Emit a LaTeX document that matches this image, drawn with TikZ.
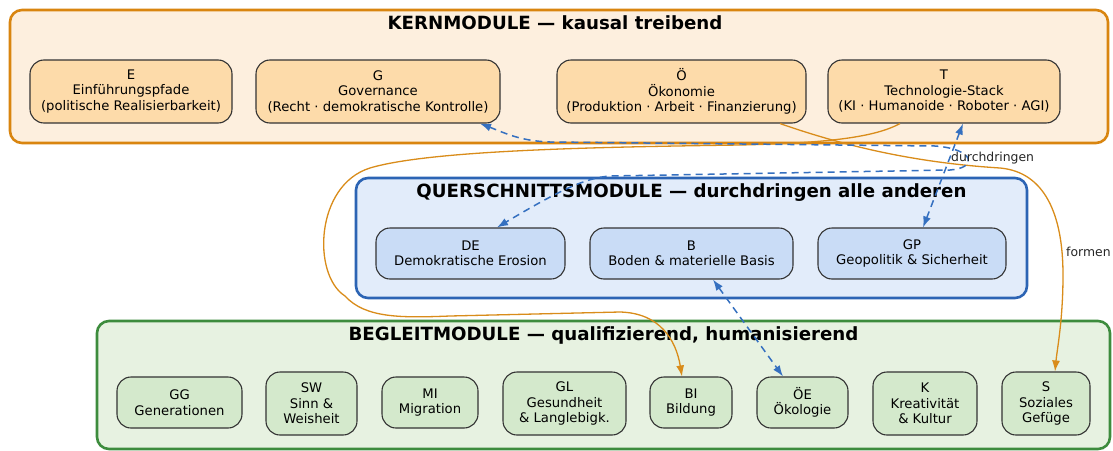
\documentclass[tikz,border=0pt]{standalone}
\usepackage{fontspec}
\setmainfont{DejaVu Sans}
\usetikzlibrary{arrows.meta}
\definecolor{kernB}{HTML}{D9850F}
\definecolor{kernF}{HTML}{FDEFDE}
\definecolor{kernN}{HTML}{FDDBAA}
\definecolor{querB}{HTML}{2C64B4}
\definecolor{querF}{HTML}{E2ECFA}
\definecolor{querN}{HTML}{C9DCF6}
\definecolor{begB}{HTML}{3D8C3D}
\definecolor{begF}{HTML}{E7F2E1}
\definecolor{begN}{HTML}{D4E9CC}
\definecolor{edgeBlue}{HTML}{3570C0}
\definecolor{edgeOr}{HTML}{D98C1A}
\newcommand\mfnt{\fontsize{13.2}{15.5}\selectfont}
\newcommand\tfnt{\fontsize{18.2}{20}\selectfont\bfseries}
\newcommand\lfnt{\fontsize{12.4}{14}\selectfont}
\begin{document}
\begin{tikzpicture}[x=1pt,y=-1pt,
  cluster/.style={line width=2.6pt, rounded corners=12pt, inner sep=0pt},
  ctitle/.style={font=\tfnt, inner sep=0pt},
  mod/.style={draw=black!80, line width=1.1pt, rounded corners=14pt, align=center, inner sep=0pt, font=\mfnt},
  kmod/.style={mod, fill=kernN, minimum height=63pt},
  qmod/.style={mod, fill=querN, minimum height=51pt},
  bmod/.style={mod, fill=begN},
  bluedash/.style={draw=edgeBlue, line width=1.5pt, dash pattern=on 7pt off 5pt, {Latex[length=11pt,width=8pt]}-{Latex[length=11pt,width=8pt]}},
  orline/.style={draw=edgeOr, line width=1.3pt, -{Latex[length=11pt,width=8pt]}},
  lbl/.style={font=\lfnt, inner sep=0pt, text=black!85}
]
\useasboundingbox (0,0) rectangle (1113,450);
\fill[white] (0,0) rectangle (1113,450);

% clusters
\node[cluster, draw=kernB, fill=kernF, minimum width=1098pt, minimum height=133pt] (kern) at (559,76.5) {};
\node[ctitle] (kernT) at (555,23) {KERNMODULE — kausal treibend};
\node[cluster, draw=querB, fill=querF, minimum width=671pt, minimum height=120pt] (quer) at (691.5,238) {};
\node[ctitle] (querT) at (691.5,193) {QUERSCHNITTSMODULE — durchdringen alle anderen};
\node[cluster, draw=begB, fill=begF, minimum width=1013pt, minimum height=128pt] (beg) at (603.5,385) {};
\node[ctitle] (begT) at (603.5,335) {BEGLEITMODULE — qualifizierend, humanisierend};

% kern modules
\node[kmod, minimum width=202pt] (E) at (131,91.5) {E\\Einführungspfade\\(politische Realisierbarkeit)};
\node[kmod, minimum width=244pt] (G) at (378,91.5) {G\\Governance\\(Recht · demokratische Kontrolle)};
\node[kmod, minimum width=249pt] (O) at (681.5,91.5) {Ö\\Ökonomie\\(Produktion · Arbeit · Finanzierung)};
\node[kmod, minimum width=232pt] (T) at (944,91.5) {T\\Technologie-Stack\\(KI · Humanoide · Roboter · AGI)};

% querschnitt modules
\node[qmod, minimum width=189pt] (DE) at (470.5,253.5) {DE\\Demokratische Erosion};
\node[qmod, minimum width=203pt] (B) at (691.5,253.5) {B\\Boden \& materielle Basis};
\node[qmod, minimum width=188pt] (GP) at (912,253.5) {GP\\Geopolitik \& Sicherheit};

% begleit modules
\node[bmod, minimum width=125pt, minimum height=51pt] (GG) at (179.5,402.5) {GG\\Generationen};
\node[bmod, minimum width=91pt, minimum height=63pt] (SW) at (311.5,403.5) {SW\\Sinn \&\\Weisheit};
\node[bmod, minimum width=96pt, minimum height=51pt] (MI) at (430,402.5) {MI\\Migration};
\node[bmod, minimum width=123pt, minimum height=63pt] (GL) at (564.5,403.5) {GL\\Gesundheit\\\& Langlebigk.};
\node[bmod, minimum width=82pt, minimum height=51pt] (BI) at (691,402.5) {BI\\Bildung};
\node[bmod, minimum width=91pt, minimum height=51pt] (OE) at (802.5,402.5) {ÖE\\Ökologie};
\node[bmod, minimum width=104pt, minimum height=63pt] (K) at (925,403.5) {K\\Kreativität\\\& Kultur};
\node[bmod, minimum width=88pt, minimum height=63pt] (S) at (1046,403.5) {S\\Soziales\\Gefüge};

% orange edges
\draw[orline] ([xshift=-44pt]T.south) .. controls (875,137) and (830,143) .. (740,145)
  .. controls (600,147) and (430,150) .. (370,168)
  .. controls (315,185) and (312,275) .. (345,296)
  .. controls (365,318) and (400,318) .. (450,316)
  -- (620,312)
  .. controls (660,313) and (676,340) .. ([xshift=-9pt]BI.north);
\draw[orline] ([xshift=98.5pt]O.south) .. controls (850,148) and (920,163) .. (1000,168)
  .. controls (1045,172) and (1063,215) .. (1063,275)
  .. controls (1063,320) and (1057,350) .. ([xshift=9pt]S.north);
\node[lbl, anchor=west] (formen) at (1066,252) {formen};

% blue dashed edges
\draw[bluedash] ([xshift=102pt]G.south) .. controls (505,133) and (520,141) .. (550,142)
  -- (935,146) .. controls (975,149) and (978,168) .. (950,170)
  -- (610,176) .. controls (585,178) and (560,190) .. ([xshift=26.5pt]DE.north);
\draw[bluedash] ([xshift=19pt]T.south) -- ([xshift=11pt]GP.north);
\node[lbl, anchor=west] (durch) at (951,158) {durchdringen};
\draw[bluedash] ([xshift=21.5pt]B.south) -- ([xshift=-19.5pt]OE.north);
\end{tikzpicture}
\end{document}
